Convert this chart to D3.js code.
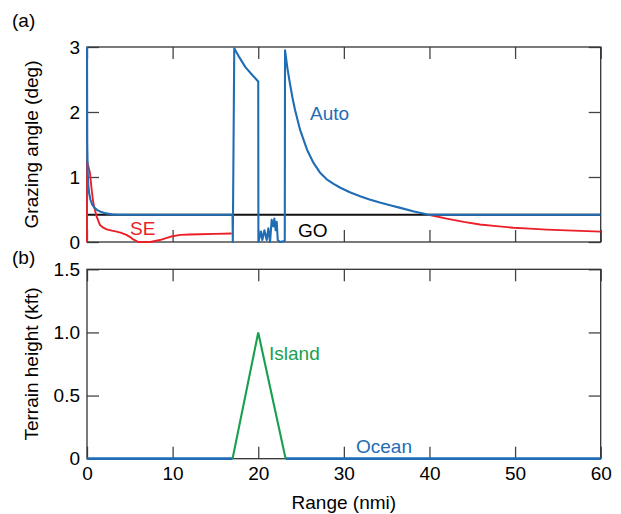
<!DOCTYPE html>
<html>
<head>
<meta charset="utf-8">
<script src="https://cdn.jsdelivr.net/npm/d3@7/dist/d3.min.js"></script>
<style>
  html, body { margin: 0; padding: 0; background: #fff; }
  svg text { font-family: "Liberation Sans", Arial, Helvetica, sans-serif; }
</style>
</head>
<body>
<svg id="chart" width="621" height="514"></svg>
<script>
// ---------- DATA ----------
const rangeTicks = [0, 10, 20, 30, 40, 50, 60];
const angleTicks = [0, 1, 2, 3];
const heightTicks = [0, 0.5, 1.0, 1.5];

// Auto grazing angle (deg) vs range (nmi)
const autoRange = [0, 0.03, 0.08, 0.15, 0.25, 0.4, 0.6, 0.85, 1.2, 1.6, 2.2, 2.9, 3.5, 17.0, 17.03, 17.2, 17.8, 18.5, 19.3, 20.0,
  20.02, 20.33, 20.48, 20.72, 20.99, 21.18, 21.38, 21.57, 21.77, 21.88, 22.04, 22.16, 22.28, 22.55, 22.94, 23.1,
  23.13, 23.4, 23.7, 24.0, 24.3, 24.9, 25.7, 26.4, 27.2, 28.0, 28.8, 29.6, 30.7, 31.9, 33.0, 34.2, 35.4, 36.6, 38.2, 39.9, 60];
const autoAngle = [3.0, 1.5, 1.1, 0.88, 0.75, 0.65, 0.58, 0.53, 0.49, 0.465, 0.44, 0.425, 0.42, 0.42, 0.0, 2.98, 2.84, 2.69, 2.57, 2.47,
  0.0, 0.16, 0.03, 0.18, 0.03, 0.21, 0.0, 0.34, 0.24, 0.36, 0.18, 0.31, 0.03, 0.0, 0.01, 0.02,
  2.95, 2.68, 2.44, 2.22, 2.03, 1.72, 1.42, 1.23, 1.07, 0.965, 0.895, 0.835, 0.765, 0.705, 0.655, 0.608, 0.567, 0.525, 0.47, 0.42, 0.42];

// SE grazing angle: near part and far part
const seRange1 = [0, 0.02, 0.15, 0.35, 0.55, 0.74, 0.95, 1.13, 1.52, 1.9, 2.3, 2.9, 3.47, 4.0, 4.6, 5.0, 5.4, 6.0, 7.4, 8.5, 9.7, 10.9, 12.0, 13.2, 15.0, 16.9];
const seAngle1 = [0, 1.23, 1.17, 1.06, 0.8, 0.6, 0.48, 0.39, 0.26, 0.22, 0.195, 0.175, 0.16, 0.14, 0.11, 0.08, 0.04, 0.0, 0.0, 0.03, 0.08, 0.11, 0.115, 0.12, 0.125, 0.13];
const seRange2 = [39.9, 42.0, 44.0, 45.9, 47.8, 49.8, 51.7, 53.7, 56.8, 60];
const seAngle2 = [0.42, 0.36, 0.31, 0.27, 0.245, 0.22, 0.205, 0.19, 0.175, 0.16];

// GO grazing angle
const goRange = [0, 60];
const goAngle = [0.42, 0.42];

// Terrain height (kft)
const islandRange = [17.0, 20.0, 23.2];
const islandHeight = [0, 1.0, 0];
const oceanRange1 = [0, 17.0];
const oceanHeight1 = [0, 0];
const oceanRange2 = [23.2, 60];
const oceanHeight2 = [0, 0];

// ---------- STYLE ----------
const BLUE = "#1f6db5", RED = "#ec1f28", GREEN = "#17a04e", BLACK = "#111";
const FS = 19;
const svg = d3.select("#chart");

const L = 87, R = 600.7;
const topP = { t: 47, b: 242 };
const botP = { t: 269.3, b: 458.7 };

const x = d3.scaleLinear().domain([0, 60]).range([L, R]);
const yTop = d3.scaleLinear().domain([0, 3]).range([topP.b, topP.t]);
const yBot = d3.scaleLinear().domain([0, 1.5]).range([botP.b, botP.t]);

function zip(a, b) { return a.map((v, i) => [v, b[i]]); }

function panel(y, p, yTicks, yFmt, showX) {
  const g = svg.append("g");
  const tk = 12;
  const ax1 = g.append("g").attr("transform", `translate(${L},0)`)
    .call(d3.axisLeft(y).tickValues(yTicks).tickSize(-tk).tickPadding(7).tickFormat(yFmt));
  const ax2 = g.append("g").attr("transform", `translate(${R},0)`)
    .call(d3.axisRight(y).tickValues(yTicks).tickSize(-tk).tickFormat(""));
  const ax3 = g.append("g").attr("transform", `translate(0,${p.t})`)
    .call(d3.axisTop(x).tickValues(rangeTicks).tickSize(-tk).tickFormat(""));
  const ax4 = g.append("g").attr("transform", `translate(0,${p.b})`)
    .call(d3.axisBottom(x).tickValues(rangeTicks).tickSize(-tk).tickPadding(8)
      .tickFormat(showX ? d3.format("d") : ""));
  [ax1, ax2, ax3, ax4].forEach(a => {
    a.select(".domain").remove();
    a.selectAll(".tick line").attr("stroke", "#444").attr("stroke-width", 1.3);
    a.selectAll(".tick text").attr("font-size", FS).attr("fill", "#000")
      .attr("font-family", "Liberation Sans, Arial, sans-serif");
  });
  g.append("rect").attr("x", L).attr("y", p.t).attr("width", R - L).attr("height", p.b - p.t)
    .attr("fill", "none").attr("stroke", "#333").attr("stroke-width", 1.3);
  return g;
}

panel(yTop, topP, angleTicks, d3.format("d"), false);
panel(yBot, botP, heightTicks, d => d === 0 ? "0" : d3.format(".1f")(d), true);

svg.append("clipPath").attr("id", "ct").append("rect")
  .attr("x", L - 1).attr("y", topP.t - 2).attr("width", R - L + 2).attr("height", topP.b - topP.t + 3);

const lineTop = d3.line().x(d => x(d[0])).y(d => yTop(d[1]));
const lineBot = d3.line().x(d => x(d[0])).y(d => yBot(d[1]));

const gt = svg.append("g").attr("clip-path", "url(#ct)");
gt.append("path").attr("d", lineTop(zip(goRange, goAngle))).attr("fill", "none").attr("stroke", BLACK).attr("stroke-width", 2);
gt.append("path").attr("d", lineTop(zip(seRange1, seAngle1))).attr("fill", "none").attr("stroke", RED).attr("stroke-width", 1.9).attr("stroke-linejoin", "round");
gt.append("path").attr("d", lineTop(zip(seRange2, seAngle2))).attr("fill", "none").attr("stroke", RED).attr("stroke-width", 1.9);
gt.append("path").attr("d", lineTop(zip(autoRange, autoAngle))).attr("fill", "none").attr("stroke", BLUE).attr("stroke-width", 2.1).attr("stroke-linejoin", "round");

const gb = svg.append("g");
gb.append("path").attr("d", lineBot(zip(oceanRange1, oceanHeight1))).attr("fill", "none").attr("stroke", BLUE).attr("stroke-width", 2.8);
gb.append("path").attr("d", lineBot(zip(oceanRange2, oceanHeight2))).attr("fill", "none").attr("stroke", BLUE).attr("stroke-width", 2.8);
gb.append("path").attr("d", lineBot(zip(islandRange, islandHeight))).attr("fill", "none").attr("stroke", GREEN).attr("stroke-width", 2.1);

// ---------- TEXT ----------
function txt(s, tx, ty, color, anchor) {
  return svg.append("text").attr("x", tx).attr("y", ty).attr("font-size", FS)
    .attr("fill", color || "#000").attr("text-anchor", anchor || "start").text(s);
}
txt("(a)", 12, 27);
txt("(b)", 12, 264);
txt("Auto", 310, 120, BLUE);
txt("SE", 130, 235, RED);
txt("GO", 298, 237, "#000");
txt("Island", 269, 360, GREEN);
txt("Ocean", 356, 453, BLUE);
txt("Range (nmi)", (L + R) / 2, 509, "#000", "middle");
svg.append("text").attr("transform", `translate(38,${(topP.t + topP.b) / 2}) rotate(-90)`)
  .attr("text-anchor", "middle").attr("font-size", FS).text("Grazing angle (deg)");
svg.append("text").attr("transform", `translate(38,${(botP.t + botP.b) / 2}) rotate(-90)`)
  .attr("text-anchor", "middle").attr("font-size", FS).text("Terrain height (kft)");
</script>
</body>
</html>
